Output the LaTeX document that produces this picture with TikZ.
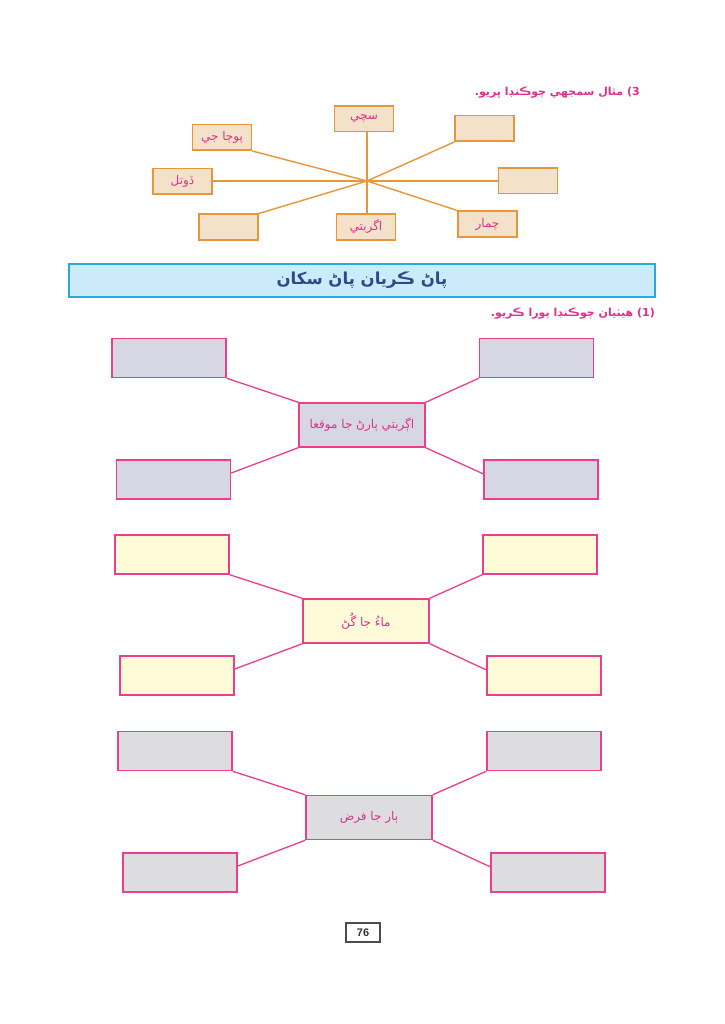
\documentclass[tikz,border=0pt]{standalone}
\usepackage{fontspec}
\usetikzlibrary{calc}
\TeXXeTstate=1
\newfontfamily\arabicfont[Script=Arabic]{DejaVu Sans}
\newfontfamily\numfont{Liberation Sans}
\definecolor{orline}{HTML}{E8963A}
\definecolor{orfill}{HTML}{F3E2C9}
\definecolor{pk}{HTML}{EC3E8C}
\definecolor{pktext}{HTML}{E2308A}
\definecolor{hdrfill}{HTML}{CCEBFA}
\definecolor{hdrline}{HTML}{2AA9E0}
\definecolor{hdrtext}{HTML}{2C4A8A}
\definecolor{fillA}{HTML}{D7D7E3}
\definecolor{fillB}{HTML}{FFFBD8}
\definecolor{fillC}{HTML}{DDDDDF}
\tikzset{
  sbox/.style={draw=orline, fill=orfill, line width=1.5pt, minimum width=59pt, minimum height=25.5pt, inner sep=0pt, text=pktext, font=\arabicfont\fontsize{12}{14}\selectfont},
  sline/.style={draw=orline, line width=1.4pt},
  obox/.style={draw=pk, line width=1.5pt, minimum width=114pt, minimum height=39pt, inner sep=0pt},
  cbox/.style={draw=pk, line width=1.5pt, minimum width=126pt, minimum height=44pt, inner sep=0pt, text=pktext, font=\arabicfont\fontsize{12}{14}\selectfont},
  mline/.style={draw=pk, line width=1.3pt},
  titletext/.style={text=pktext, inner sep=0pt, font=\arabicfont\bfseries\fontsize{11}{13}\selectfont}
}
\begin{document}
\begin{tikzpicture}[x=1pt,y=-1pt]
\useasboundingbox[fill=white] (0,0) rectangle (724,1024);

% ---- top exercise ----
\node[titletext, anchor=east] (t3) at (640,93) {\beginR\beginL 3)\endL{}  مثال سمجهي چوڪنڊا ڀريو.\endR};

\coordinate (hub) at (367,181);
\node[sbox] (top) at (364,119) {\beginR سچي\endR};
\node[sbox] (ul) at (222,137.5) {\beginR پوڄا جي\endR};
\node[sbox] (lf) at (182.5,181.5) {\beginR ڏوتل\endR};
\node[sbox] (ll) at (228.5,227) {};
\node[sbox] (bt) at (366,227) {\beginR اگربتي\endR};
\node[sbox] (lr) at (487.5,224) {\beginR چمار\endR};
\node[sbox] (rt) at (528,181) {};
\node[sbox] (ur) at (484.5,128.5) {};
\draw[sline] (hub) -- (hub |- top.south);
\draw[sline] (hub) -- (ul.south east);
\draw[sline] (hub) -- (lf.east |- hub);
\draw[sline] (hub) -- (ll.north east);
\draw[sline] (hub) -- (hub |- bt.north);
\draw[sline] (hub) -- (lr.north west);
\draw[sline] (hub) -- (rt.west |- hub);
\draw[sline] (hub) -- (ur.south west);

% ---- header ----
\node[draw=hdrline, fill=hdrfill, line width=1.6pt, minimum width=586pt, minimum height=33pt, inner sep=0pt, text=hdrtext, font=\arabicfont\bfseries\fontsize{16.5}{19}\selectfont] (hdr) at (362,280.5) {\beginR پاڻ ڪريان پاڻ سکان\endR};

\node[titletext, anchor=east] (t1) at (655,314) {\beginR\beginL(1)\endL{} هيٺيان چوڪنڊا پورا ڪريو.\endR};

% ---- map 1 ----
\node[obox, fill=fillA] (a1) at (169,358) {};
\node[obox, fill=fillA] (a2) at (536.5,358) {};
\node[cbox, fill=fillA] (ac) at (362,425) {\beginR اڳربتي ٻارڻ جا موقعا\endR};
\node[obox, fill=fillA] (a3) at (173.5,479.5) {};
\node[obox, fill=fillA] (a4) at (541,479.5) {};
\draw[mline] (a1.south east) -- (ac.north west);
\draw[mline] (a2.south west) -- (ac.north east);
\draw[mline] ($(a3.north east)!0.34!(a3.south east)$) -- (ac.south west);
\draw[mline] (ac.south east) -- ($(a4.north west)!0.36!(a4.south west)$);

% ---- map 2 ----
\node[obox, fill=fillB] (b1) at (172,554.5) {};
\node[obox, fill=fillB] (b2) at (540,554.5) {};
\node[cbox, fill=fillB] (bc) at (366,621) {\beginR ماءُ جا گُڻ\endR};
\node[obox, fill=fillB] (b3) at (177,675.5) {};
\node[obox, fill=fillB] (b4) at (544,675.5) {};
\draw[mline] (b1.south east) -- (bc.north west);
\draw[mline] (b2.south west) -- (bc.north east);
\draw[mline] ($(b3.north east)!0.34!(b3.south east)$) -- (bc.south west);
\draw[mline] (bc.south east) -- ($(b4.north west)!0.36!(b4.south west)$);

% ---- map 3 ----
\node[obox, fill=fillC] (c1) at (175,751) {};
\node[obox, fill=fillC] (c2) at (544,751) {};
\node[cbox, fill=fillC] (cc) at (369,817.5) {\beginR ٻار جا فرض\endR};
\node[obox, fill=fillC] (c3) at (180,872.5) {};
\node[obox, fill=fillC] (c4) at (548,872.5) {};
\draw[mline] (c1.south east) -- (cc.north west);
\draw[mline] (c2.south west) -- (cc.north east);
\draw[mline] ($(c3.north east)!0.34!(c3.south east)$) -- (cc.south west);
\draw[mline] (cc.south east) -- ($(c4.north west)!0.36!(c4.south west)$);

% ---- page number ----
\node[draw=black!70, line width=1.4pt, minimum width=34pt, minimum height=19pt, inner sep=0pt, font=\numfont\bfseries\fontsize{11}{12}\selectfont, text=black!80] (pg) at (363,932.5) {76};
\end{tikzpicture}
\end{document}
